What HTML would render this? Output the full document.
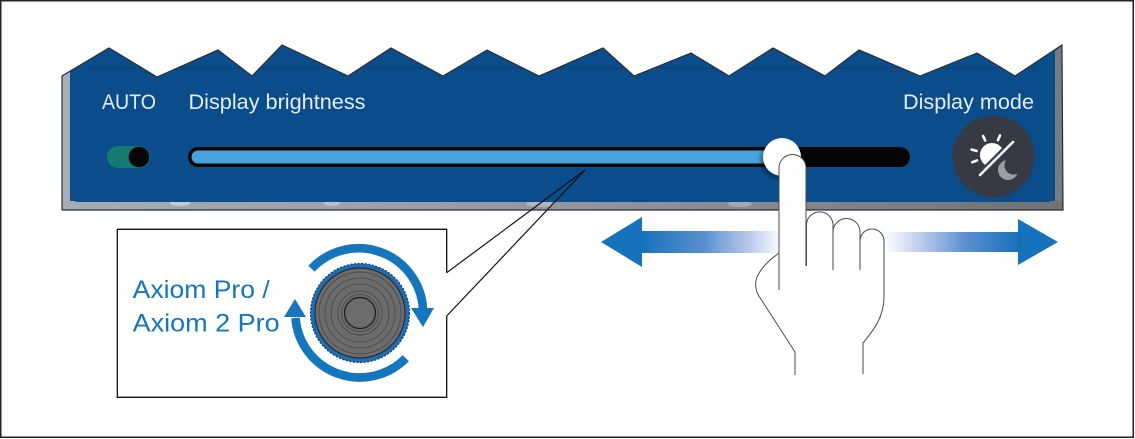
<!DOCTYPE html>
<html><head><meta charset="utf-8"><style>
html,body{margin:0;padding:0;background:#fff;}
svg{display:block;}
</style></head><body>
<svg width="1135" height="439" viewBox="0 0 1135 439" xmlns="http://www.w3.org/2000/svg">
<defs>
<linearGradient id="gl" x1="642" y1="0" x2="782" y2="0" gradientUnits="userSpaceOnUse">
<stop offset="0" stop-color="#1672bd"/><stop offset="0.45" stop-color="#5c8fcf"/><stop offset="0.8" stop-color="#c3d0ee"/><stop offset="1" stop-color="#ffffff"/>
</linearGradient>
<linearGradient id="gr" x1="884" y1="0" x2="1019" y2="0" gradientUnits="userSpaceOnUse">
<stop offset="0" stop-color="#ffffff"/><stop offset="0.25" stop-color="#c3d0ee"/><stop offset="0.6" stop-color="#5c8fcf"/><stop offset="1" stop-color="#1672bd"/>
</linearGradient>
<linearGradient id="gb" x1="62" y1="0" x2="1063" y2="0" gradientUnits="userSpaceOnUse">
<stop offset="0" stop-color="#a4abb5"/><stop offset="0.3" stop-color="#9ea2a8"/><stop offset="0.6" stop-color="#8d9096"/><stop offset="1" stop-color="#707275"/>
</linearGradient>
<clipPath id="sunclip"><polygon points="960,120 1030,120 960,190 960,120"/></clipPath>
<clipPath id="panelclip"><polygon points="62,76 109,48 157,77 218,50 252,76 282,45 348,76 391,48 443,76 487,50 539,76 603,48 634,76 691,53 729,76 773,48 825,76 859,50 920,76 977,53 1015,76 1062,45 1063,210 62,210"/></clipPath>
<radialGradient id="ksh" cx="0.5" cy="0.5" r="0.5"><stop offset="0.7" stop-color="#000" stop-opacity="0.35"/><stop offset="1" stop-color="#000" stop-opacity="0"/></radialGradient>
</defs>

<!-- outer frame -->
<rect x="0.75" y="0.75" width="1132.5" height="436.5" fill="#fff" stroke="#222" stroke-width="1.5"/>

<!-- panel -->
<polygon points="62,76 109,48 157,77 218,50 252,76 282,45 348,76 391,48 443,76 487,50 539,76 603,48 634,76 691,53 729,76 773,48 825,76 859,50 920,76 977,53 1015,76 1062,45 1063,210 62,210" fill="#0b4d8b"/>
<g clip-path="url(#panelclip)">
<polygon points="62,76 70,72 70,210 62,210" fill="#a8afba"/>
<polygon points="1055,51 1063,45 1063,210 1055,210" fill="#7a7b7e"/>
<rect x="62" y="201" width="1001" height="9" fill="url(#gb)"/>
<ellipse cx="180" cy="203" rx="10" ry="3" fill="#d0d4da" opacity="0.8"/>
<ellipse cx="332" cy="203" rx="8" ry="3" fill="#c8ccd2" opacity="0.7"/>
<ellipse cx="540" cy="204" rx="14" ry="3" fill="#c8ccd2" opacity="0.6"/>
<ellipse cx="740" cy="204" rx="12" ry="3" fill="#b8bcc2" opacity="0.6"/>
<rect x="70" y="80" width="985" height="122" rx="8" ry="8" fill="#0b4d8b"/>
<line x1="90" y1="68" x2="1035" y2="68" stroke="#173760" stroke-width="1" opacity="0.7"/>
</g>
<polyline points="62,210 62,76 109,48 157,77 218,50 252,76 282,45 348,76 391,48 443,76 487,50 539,76 603,48 634,76 691,53 729,76 773,48 825,76 859,50 920,76 977,53 1015,76 1062,45 1063,210 62,210" fill="none" stroke="#2a2f36" stroke-width="1.2"/>

<!-- labels -->
<g font-family="Liberation Sans, Arial, sans-serif" font-size="21" fill="#e4ecf5">
<text x="102" y="109" textLength="54" lengthAdjust="spacingAndGlyphs">AUTO</text>
<text x="188.5" y="109" textLength="177" lengthAdjust="spacingAndGlyphs">Display brightness</text>
<text x="903" y="109" textLength="131" lengthAdjust="spacingAndGlyphs">Display mode</text>
</g>

<!-- toggle -->
<rect x="107" y="146" width="43" height="22" rx="11" fill="#167a70"/>
<circle cx="139" cy="157" r="10.3" fill="#050505"/>

<!-- slider -->
<rect x="188" y="147" width="722" height="20" rx="10" fill="#050505"/>
<rect x="191.5" y="150.5" width="600" height="13" rx="6.5" fill="#49a2dc"/>
<circle cx="779" cy="160" r="22" fill="url(#ksh)"/>
<circle cx="782" cy="157" r="19" fill="#ffffff"/>

<!-- display mode button -->
<circle cx="993.5" cy="156.5" r="41" fill="#353a44"/>
<circle cx="992" cy="155" r="12" fill="#fff" clip-path="url(#sunclip)"/>
<g stroke="#fff" stroke-width="2.6" stroke-linecap="round">
<line x1="976.5" y1="150.9" x2="971.7" y2="149.6"/>
<line x1="985.2" y1="140.5" x2="983.1" y2="136"/>
<line x1="998" y1="140.2" x2="999.9" y2="135.5"/>
<line x1="977" y1="160.5" x2="972.3" y2="162.2"/>
<line x1="980" y1="175" x2="1013" y2="142"/>
</g>
<circle cx="1008" cy="170" r="10" fill="#9c9ea2"/>
<circle cx="1013.5" cy="165.5" r="9" fill="#353a44"/>

<!-- callout box -->
<polyline points="446.7,272.7 446.7,229.3 117.3,229.3 117.3,397.3 446.7,397.3 446.7,316" fill="none" stroke="#111" stroke-width="1.3"/>
<polyline points="446.7,272.7 585,170 446.7,316" fill="none" stroke="#111" stroke-width="1.2"/>

<g font-family="Liberation Sans, Arial, sans-serif" font-size="25" fill="#1576be">
<text x="132.7" y="298" textLength="137" lengthAdjust="spacingAndGlyphs">Axiom Pro /</text>
<text x="132.7" y="331.7" textLength="147" lengthAdjust="spacingAndGlyphs">Axiom 2 Pro</text>
</g>

<!-- rotary knob -->
<circle cx="360" cy="313" r="49.5" fill="#1b6db4" stroke="#203a5c" stroke-width="1.2" stroke-dasharray="2 1.6"/>
<circle cx="360" cy="313" r="45" fill="#6c6c6c" stroke="#2b2b2b" stroke-width="1.2"/>
<g fill="none" stroke="#474747" stroke-width="0.8">
<circle cx="360" cy="313" r="41"/>
<circle cx="360" cy="313" r="35"/>
<circle cx="360" cy="313" r="29"/>
<circle cx="360" cy="313" r="22"/>
<circle cx="360" cy="313" r="18.5"/>
</g>
<circle cx="360" cy="313" r="15.5" fill="none" stroke="#1e1e1e" stroke-width="1.3"/>

<g fill="none" stroke="#1576be" stroke-width="8.7">
<path d="M311.5,268.7 A64.5,64.5 0 0 1 423,309"/>
<path d="M405.8,358.2 A64.5,64.5 0 0 1 295.5,318"/>
</g>
<polygon points="411,308 434,308 423,327" fill="#1576be"/>
<polygon points="284,317 306,317 295,299" fill="#1576be"/>

<!-- swipe arrows -->
<polygon points="601,242 642,217 642,231 782,231 782,253 642,253 642,267" fill="url(#gl)"/>
<polygon points="884,232 1018,232 1018,219 1058,242 1018,265 1018,252 884,252" fill="url(#gr)"/>

<!-- hand -->
<path d="M795,376 L795,352 L758.3,295 C755,289 755,282 757,277 C762,266 771,259 779,253 L779,168 A13.5,13.5 0 0 1 806,168 L806,224 A13.5,13.5 0 0 1 833,224 L833,232 A13.5,13.5 0 0 1 860,232 L860,241 A12,12 0 0 1 884,241 L884,297 C884,318 872,332 863,343 L863,376 Z" fill="#fff"/>
<g fill="none" stroke="#4a4a4a" stroke-width="1">
<path d="M779,290 L779,168 A13.5,13.5 0 0 1 806,168 L806,266"/>
<path d="M806.5,266 L806.5,224 A13.3,13.3 0 0 1 833,224 L833,266"/>
<path d="M833,270 L833,232 A13.5,13.5 0 0 1 860,232 L860,270"/>
<path d="M860,241 A12,12 0 0 1 884,241 L884,297 C884,318 872,332 863,343 L863,374"/>
<path d="M779,253 C771,259 762,266 757,277 C755,282 755,289 758.3,295 L795,352 L795,375"/>
</g>
</svg>
</body></html>
